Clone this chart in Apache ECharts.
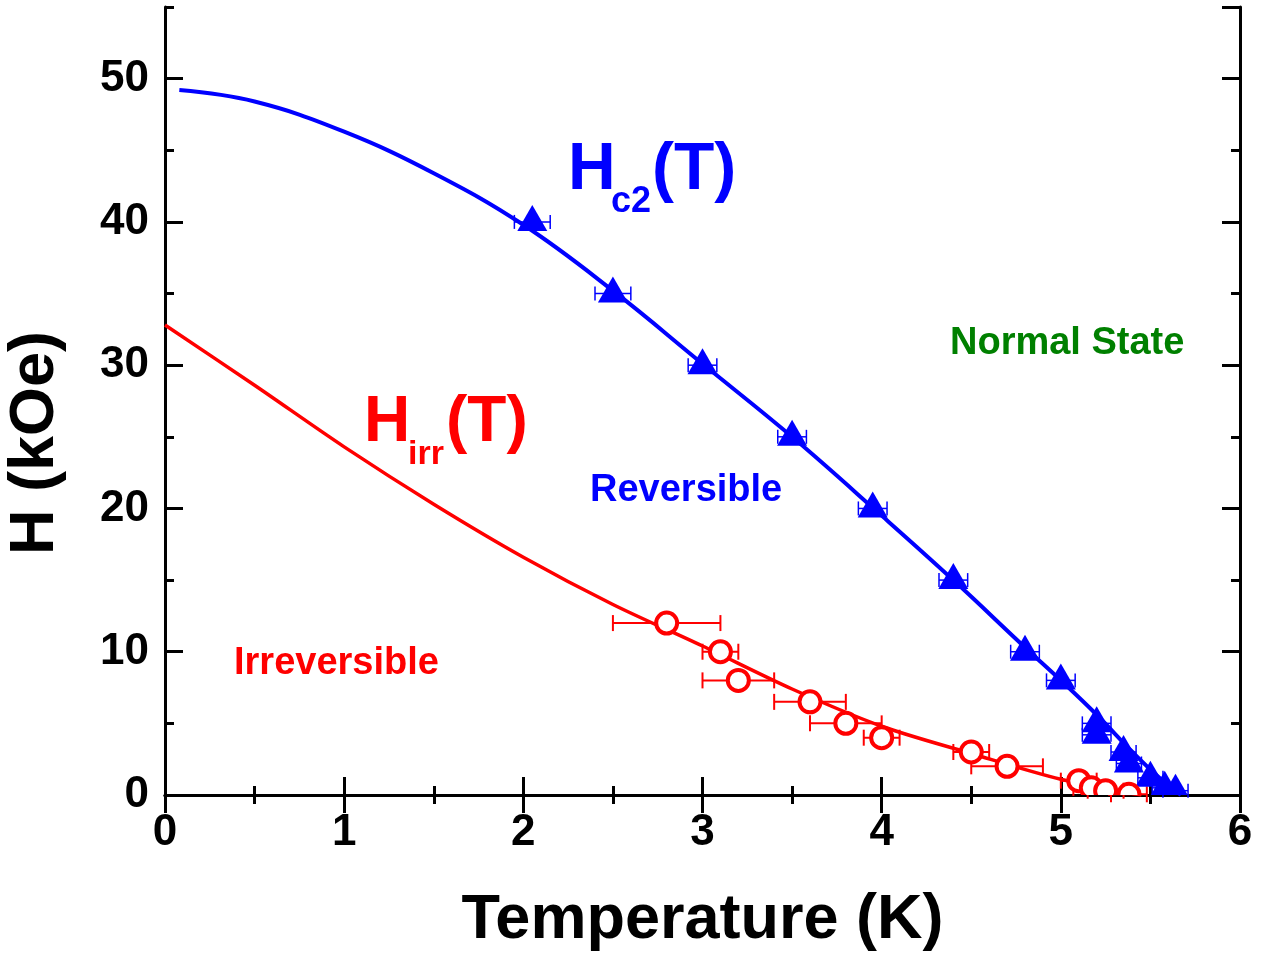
<!DOCTYPE html>
<html>
<head>
<meta charset="utf-8">
<title>Hc2 and Hirr vs Temperature</title>
<script src="https://cdn.jsdelivr.net/npm/echarts@6/dist/echarts.min.js"></script>
<style>
  html, body { margin: 0; padding: 0; background: #fff; }
  #chart { width: 1263px; height: 958px; }
</style>
</head>
<body>
<div id="chart"></div>
<script>
// upper critical field, measured points (K, kOe) and x error
var hc2T = [2.05, 2.5, 3.0, 3.5, 3.95, 4.4, 4.8, 5.0, 5.2, 5.2, 5.35, 5.38, 5.5, 5.58, 5.64];
var hc2H = [40, 35, 30, 25, 20, 15, 10, 8, 5, 4.2, 3, 2.2, 1.2, 0.5, 0.3];
var hc2Err = [0.1, 0.1, 0.08, 0.08, 0.08, 0.08, 0.08, 0.08, 0.08, 0.08, 0.07, 0.07, 0.07, 0.07, 0.07];

// irreversibility field, measured points
var irrT = [2.8, 3.1, 3.2, 3.6, 3.8, 4.0, 4.5, 4.7, 5.1, 5.17, 5.25, 5.38];
var irrH = [12, 10, 8, 6.5, 5, 4, 3, 2, 1, 0.5, 0.3, 0.05];
var irrErr = [0.3, 0.1, 0.2, 0.2, 0.2, 0.1, 0.1, 0.2, 0.1, 0.1, 0.1, 0.1];

// fitted curves
var hc2FitT = [0.08, 0.5, 1.0, 1.5, 2.0, 2.5, 3.0, 3.5, 4.0, 4.4, 4.8, 5.0, 5.2, 5.4, 5.55, 5.67];
var hc2FitH = [49.2, 48.4, 46.3, 43.4, 39.8, 35.2, 30.1, 25.0, 19.5, 15.0, 10.3, 8.0, 5.6, 3.0, 1.2, 0];
var irrFitT = [0, 0.5, 1.0, 1.5, 2.0, 2.5, 3.0, 3.5, 4.0, 4.5, 5.0, 5.45];
var irrFitH = [32.8, 28.6, 24.3, 20.3, 16.6, 13.3, 10.4, 7.4, 4.8, 2.9, 1.1, 0];

var xTicks = [0, 1, 2, 3, 4, 5, 6];

var FONT = "'Liberation Sans', Arial, sans-serif";
var BLUE = '#0000ff', RED = '#ff0000', GREEN = '#008000';

function pairs(xs, ys) {
  return xs.map(function (x, i) { return [x, ys[i]]; });
}
function errRows(xs, ys, es) {
  return xs.map(function (x, i) { return [x, ys[i], es[i]]; });
}
function gridClip(params) {
  var c = params.coordSys;
  return { type: 'rect', shape: { x: c.x, y: c.y, width: c.width, height: c.height } };
}

// horizontal error bar with caps
function errBar(color, width, cap) {
  return function (params, api) {
    var x = api.value(0), y = api.value(1), e = api.value(2);
    var a = api.coord([x - e, y]);
    var b = api.coord([x + e, y]);
    var st = { stroke: color, lineWidth: width };
    return {
      type: 'group',
      children: [
        { type: 'line', shape: { x1: a[0], y1: a[1], x2: b[0], y2: b[1] }, style: st },
        { type: 'line', shape: { x1: a[0], y1: a[1] - cap, x2: a[0], y2: a[1] + cap }, style: st },
        { type: 'line', shape: { x1: b[0], y1: b[1] - cap, x2: b[0], y2: b[1] + cap }, style: st }
      ]
    };
  };
}

// filled triangles, clipped at the frame like the original
function triMark(params, api) {
  var p = api.coord([api.value(0), api.value(1)]);
  var cx = p[0], cy = p[1] - 4;
  return {
    type: 'polygon',
    shape: { points: [[cx, cy - 13], [cx + 15, cy + 13], [cx - 15, cy + 13]] },
    style: { fill: BLUE },
    clipPath: gridClip(params)
  };
}

// open circles
function ringMark(params, api) {
  var p = api.coord([api.value(0), api.value(1)]);
  return {
    type: 'circle',
    shape: { cx: p[0], cy: p[1], r: 10.5 },
    style: { fill: '#fff', stroke: RED, lineWidth: 4 },
    clipPath: gridClip(params)
  };
}

var axisLine = { show: true, lineStyle: { color: '#000', width: 3 } };
var tickLabel = { fontFamily: FONT, fontWeight: 'bold', fontSize: 44, color: '#000' };
var nameStyle = { fontFamily: FONT, fontWeight: 'bold', fontSize: 63, color: '#000' };

function xAx(pos, labels) {
  return {
    type: 'value', position: pos, min: 0, max: 6, interval: 1,
    axisLine: axisLine,
    axisTick: { show: true, inside: true, length: 18, lineStyle: { color: '#000', width: 3 } },
    minorTick: { show: true, splitNumber: 2, length: 9, lineStyle: { color: '#000', width: 3 } },
    splitLine: { show: false },
    axisLabel: labels ? Object.assign({ show: true, margin: 16,
      formatter: function (v) { return xTicks.indexOf(v) >= 0 ? String(v) : ''; } }, tickLabel) : { show: false },
    name: labels ? 'Temperature (K)' : '',
    nameLocation: 'middle', nameGap: 94, nameTextStyle: nameStyle, nameMoveOverlap: false
  };
}

function yAx(pos, step, len, labels, line) {
  return {
    type: 'value', position: pos, min: 0, max: 55, interval: step, offset: 0,
    axisLine: line ? axisLine : { show: false },
    axisTick: { show: true, inside: true, length: len, lineStyle: { color: '#000', width: 3 } },
    splitLine: { show: false },
    axisLabel: labels ? Object.assign({ show: true, margin: 16, showMaxLabel: false }, tickLabel) : { show: false }
  };
}

var chart = echarts.init(document.getElementById('chart'));
var option = {
  backgroundColor: '#fff',
  animation: false,
  grid: { left: 165, right: 23, top: 7, bottom: 163, containLabel: false, outerBoundsMode: 'none' },
  xAxis: [xAx('bottom', true), xAx('top', false)],
  yAxis: [
    yAx('left', 10, 18, true, true),
    yAx('left', 5, 9, false, false),
    yAx('right', 10, 18, false, true),
    yAx('right', 5, 9, false, false)
  ],
  series: [
    {
      type: 'line', data: pairs(hc2FitT, hc2FitH), smooth: 0.4, showSymbol: false,
      lineStyle: { color: BLUE, width: 4 }, z: 2
    },
    {
      type: 'line', data: pairs(irrFitT, irrFitH), smooth: 0.3, showSymbol: false,
      lineStyle: { color: RED, width: 3.5 }, z: 2
    },
    {
      type: 'custom', data: errRows(hc2T, hc2H, hc2Err), renderItem: errBar(BLUE, 1.5, 7),
      encode: { x: 0, y: 1 }, z: 3
    },
    {
      type: 'custom', data: errRows(irrT, irrH, irrErr), renderItem: errBar(RED, 2, 8),
      encode: { x: 0, y: 1 }, z: 3
    },
    {
      type: 'custom', data: pairs(hc2T, hc2H), renderItem: triMark,
      encode: { x: 0, y: 1 }, z: 4
    },
    {
      type: 'custom', data: pairs(irrT, irrH), renderItem: ringMark,
      encode: { x: 0, y: 1 }, z: 4
    }
  ],
  graphic: [
    { type: 'text', left: 568, top: 138, style: { text: 'H', font: 'bold 66px ' + FONT, fill: BLUE } },
    { type: 'text', left: 611, top: 184, style: { text: 'c2', font: 'bold 36px ' + FONT, fill: BLUE } },
    { type: 'text', left: 652, top: 138, style: { text: '(T)', font: 'bold 66px ' + FONT, fill: BLUE } },
    { type: 'text', left: 364, top: 391, style: { text: 'H', font: 'bold 64px ' + FONT, fill: RED } },
    { type: 'text', left: 408, top: 438, style: { text: 'irr', font: 'bold 34px ' + FONT, fill: RED } },
    { type: 'text', left: 446, top: 391, style: { text: '(T)', font: 'bold 64px ' + FONT, fill: RED } },
    { type: 'text', left: 950, top: 325, style: { text: 'Normal State', font: 'bold 38px ' + FONT, fill: GREEN } },
    { type: 'text', left: 590, top: 472, style: { text: 'Reversible', font: 'bold 38px ' + FONT, fill: BLUE } },
    { type: 'text', left: 234, top: 645, style: { text: 'Irreversible', font: 'bold 38px ' + FONT, fill: RED } },
    {
      type: 'text', x: 36, y: 443, rotation: Math.PI / 2,
      style: { text: 'H (kOe)', font: 'bold 63px ' + FONT, fill: '#000', align: 'center', verticalAlign: 'middle' }
    }
  ]
};
chart.setOption(option);
</script>
</body>
</html>
